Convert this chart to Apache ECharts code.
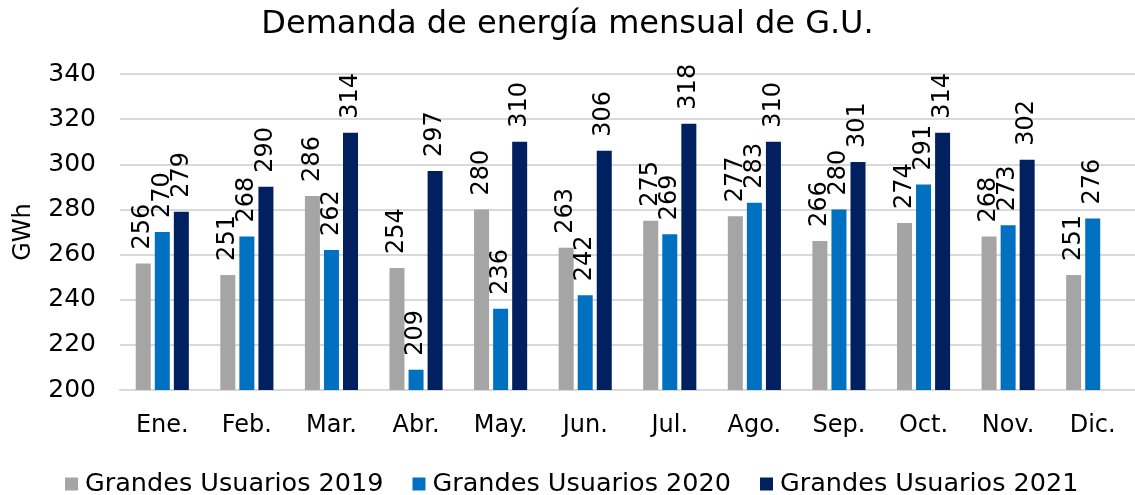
<!DOCTYPE html>
<html>
<head>
<meta charset="utf-8">
<script src="https://cdn.jsdelivr.net/npm/echarts@6/dist/echarts.min.js"></script>
<style>
  html, body { margin: 0; padding: 0; background: #fff; }
  #chart { width: 1135px; height: 495px; }
</style>
</head>
<body>
<div id="chart"></div>
<script>
const months = ["Ene.", "Feb.", "Mar.", "Abr.", "May.", "Jun.", "Jul.", "Ago.", "Sep.", "Oct.", "Nov.", "Dic."];
const gu2019 = [256, 251, 286, 254, 280, 263, 275, 277, 266, 274, 268, 251];
const gu2020 = [270, 268, 262, 209, 236, 242, 269, 283, 280, 291, 273, 276];
const gu2021 = [279, 290, 314, 297, 310, 306, 318, 310, 301, 314, 302, null];

const font = "DejaVu Sans";

// etiqueta vertical encima de cada barra
const barLabel = {
  show: true,
  position: "top",
  rotate: 90,
  align: "left",
  verticalAlign: "middle",
  distance: 14,
  color: "#000",
  fontFamily: font,
  fontSize: 24,
};

function serie(name, data, color) {
  return {
    name: name,
    type: "bar",
    data: data,
    barWidth: 15,
    barGap: "27%",
    itemStyle: { color: color },
    label: barLabel,
  };
}

const myChart = echarts.init(document.getElementById("chart"));
myChart.setOption({
  animation: false,
  backgroundColor: "#fff",
  title: {
    text: "Demanda de energía mensual de G.U.",
    left: "center",
    top: 4,
    textStyle: { fontFamily: font, fontSize: 32, fontWeight: "normal", color: "#000" },
  },
  legend: {
    top: 466,
    left: 60,
    itemWidth: 13,
    itemHeight: 13,
    itemGap: 29,
    icon: "rect",
    textStyle: { fontFamily: font, fontSize: 25.5, color: "#000", padding: [0, 0, 0, 2] },
  },
  grid: {
    left: 120,
    right: 0,
    top: 74,
    bottom: 105,
  },
  xAxis: {
    type: "category",
    data: months,
    axisTick: { show: false },
    axisLine: { lineStyle: { color: "#d9d9d9", width: 2 } },
    axisLabel: { fontFamily: font, fontSize: 24, color: "#000", margin: 24 },
  },
  yAxis: {
    type: "value",
    min: 200,
    max: 340,
    interval: 20,
    name: "GWh",
    nameLocation: "middle",
    nameGap: 84,
    nameRotate: 90,
    nameTextStyle: { fontFamily: font, fontSize: 24, color: "#000" },
    axisLabel: { fontFamily: font, fontSize: 25, color: "#000", margin: 24 },
    splitLine: { lineStyle: { color: "#d9d9d9", width: 2 } },
  },
  series: [
    serie("Grandes Usuarios 2019", gu2019, "#a5a5a5"),
    serie("Grandes Usuarios 2020", gu2020, "#0070c0"),
    serie("Grandes Usuarios 2021", gu2021, "#002060"),
  ],
});
</script>
</body>
</html>
